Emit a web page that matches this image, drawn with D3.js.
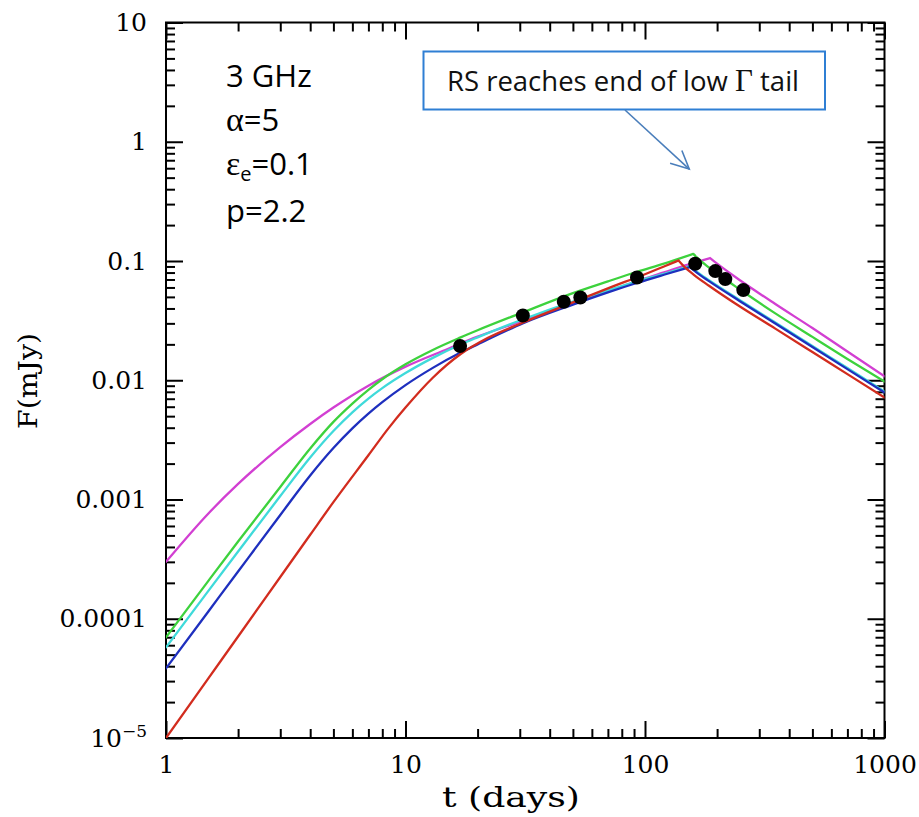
<!DOCTYPE html>
<html>
<head>
<meta charset="utf-8">
<script src="https://cdn.jsdelivr.net/npm/d3@7"></script>
<style>
  body { margin: 0; background: #fff; }
  svg { display: block; }
</style>
</head>
<body>
<svg id="chart" width="919" height="817"></svg>
<script>
// Model light curves at 3 GHz (t in days, F in mJy)
const magentaT = [1, 1.5, 2, 3, 4, 5, 7, 10, 15, 20, 31, 50, 70, 93, 120, 150, 187, 200, 250, 350, 500, 700, 1000];
const magentaF = [3.0e-4, 7.6e-4, 1.35e-3, 2.75e-3, 4.3e-3, 5.9e-3, 9.0e-3, 0.0130, 0.0183, 0.0232, 0.0316, 0.0445, 0.0557, 0.068, 0.0802, 0.0928, 0.1058, 0.0950, 0.0687, 0.0436, 0.0274, 0.0174, 0.0108];

const greenT = [1, 1.5, 2, 3, 4, 5, 6, 7, 8, 10, 13, 16.9, 20, 31, 50, 70, 93, 120, 159, 165, 180, 200, 250, 350, 500, 700, 1000];
const greenF = [6.99e-5, 2.07e-4, 4.44e-4, 1.273e-3, 2.68e-3, 4.48e-3, 6.38e-3, 8.32e-3, 0.0102, 0.0136, 0.01795, 0.02275, 0.02624, 0.0372, 0.0538, 0.0675, 0.0813, 0.0951, 0.1148, 0.1066, 0.0919, 0.0785, 0.0574, 0.0364, 0.0231, 0.0151, 0.00975];

const cyanT = [1, 1.5, 2, 3, 4, 5, 6, 7, 8, 10, 13, 16.9, 20, 31, 50, 70, 93, 120, 154, 165, 185, 250, 350, 500, 700, 1000];
const cyanF = [5.76e-5, 1.703e-4, 3.66e-4, 1.069e-3, 2.25e-3, 3.75e-3, 5.38e-3, 7.01e-3, 8.58e-3, 0.01148, 0.0154, 0.01984, 0.0229, 0.0325, 0.0457, 0.0567, 0.0676, 0.0782, 0.0906, 0.0811, 0.0691, 0.0467, 0.0305, 0.0194, 0.01265, 0.00805];

const blueT = [1, 1.5, 2, 3, 4, 5, 6, 7, 8, 10, 13, 16.9, 20, 31, 50, 70, 93, 120, 154, 165, 185, 250, 350, 500, 700, 1000];
const blueF = [3.84e-5, 1.146e-4, 2.49e-4, 7.41e-4, 1.59e-3, 2.7e-3, 3.95e-3, 5.25e-3, 6.55e-3, 9.1e-3, 0.0127, 0.0170, 0.0200, 0.0301, 0.0431, 0.0546, 0.0657, 0.0767, 0.0889, 0.0796, 0.0678, 0.0458, 0.0299, 0.0190, 0.0124, 0.0079];

const redT = [1, 1.5, 2, 3, 4, 5, 7, 8.5, 10, 13, 17, 22, 31, 50, 70, 100, 120, 138, 145, 160, 185, 250, 350, 500, 700, 1000];
const redF = [1.0e-5, 3.15e-5, 7.1e-5, 2.24e-4, 5.06e-4, 9.5e-4, 2.35e-3, 3.97e-3, 5.9e-3, 0.0105, 0.0166, 0.0226, 0.0305, 0.0450, 0.0590, 0.0775, 0.0900, 0.1009, 0.0905, 0.0766, 0.0620, 0.0413, 0.0271, 0.01725, 0.01125, 0.00716];

// Observed 3 GHz fluxes
const obsT = [16.9, 30.9, 45.8, 53.7, 92.6, 162, 196.6, 216.4, 257.3];
const obsF = [0.0194, 0.0349, 0.0455, 0.0494, 0.0727, 0.0947, 0.0823, 0.0705, 0.0570];

// Axis ticks
const xMajor = [1, 10, 100, 1000];
const xTickLabels = ["1", "10", "100", "1000"];
const yMajor = [1e-5, 1e-4, 1e-3, 0.01, 0.1, 1, 10];
const yTickLabels = ["10-5", "0.0001", "0.001", "0.01", "0.1", "1", "10"];

// Arrow tip of the annotation, in data units
const arrowTip = [153, 0.59];

const svg = d3.select("#chart");
const box = { left: 166, right: 884.5, top: 22.5, bottom: 738 };

const x = d3.scaleLog().domain([1, 1000]).range([box.left, box.right]);
const y = d3.scaleLog().domain([1e-5, 10]).range([box.bottom, box.top]);

const minorOf = (majors) => {
  const out = [];
  for (let i = 0; i < majors.length - 1; i++)
    for (let m = 2; m <= 9; m++) out.push(majors[i] * m);
  return out;
};
const xMinor = minorOf(xMajor);
const yMinor = minorOf(yMajor);

const serif = "'DejaVu Serif', serif";
const MAJ = 17, MIN = 9;

function styleAxis(g) {
  g.select(".domain").remove();
  g.selectAll(".tick line").attr("stroke", "#000").attr("stroke-width", 2);
  g.selectAll(".tick text").attr("fill", "#000")
    .style("font-family", serif).style("font-size", "25px");
}

// bottom
svg.append("g").attr("transform", `translate(0,${box.bottom})`)
  .call(d3.axisBottom(x).tickValues(xMajor).tickSize(-MAJ).tickPadding(17)
    .tickFormat((d, i) => xTickLabels[i]))
  .call(styleAxis);
svg.append("g").attr("transform", `translate(0,${box.bottom})`)
  .call(d3.axisBottom(x).tickValues(xMinor).tickSize(-MIN).tickFormat(""))
  .call(styleAxis);
// top
svg.append("g").attr("transform", `translate(0,${box.top})`)
  .call(d3.axisTop(x).tickValues(xMajor).tickSize(-MAJ).tickFormat(""))
  .call(styleAxis);
svg.append("g").attr("transform", `translate(0,${box.top})`)
  .call(d3.axisTop(x).tickValues(xMinor).tickSize(-MIN).tickFormat(""))
  .call(styleAxis);
// left
const leftAxis = svg.append("g").attr("transform", `translate(${box.left},0)`)
  .call(d3.axisLeft(y).tickValues(yMajor).tickSize(-MAJ).tickPadding(19)
    .tickFormat((d, i) => yTickLabels[i]))
  .call(styleAxis);
svg.append("g").attr("transform", `translate(${box.left},0)`)
  .call(d3.axisLeft(y).tickValues(yMinor).tickSize(-MIN).tickFormat(""))
  .call(styleAxis);
// right
svg.append("g").attr("transform", `translate(${box.right},0)`)
  .call(d3.axisRight(y).tickValues(yMajor).tickSize(-MAJ).tickFormat(""))
  .call(styleAxis);
svg.append("g").attr("transform", `translate(${box.right},0)`)
  .call(d3.axisRight(y).tickValues(yMinor).tickSize(-MIN).tickFormat(""))
  .call(styleAxis);

// exponent label 10^-5
leftAxis.selectAll(".tick text").filter(d => d === 1e-5).each(function () {
  const t = d3.select(this).text("");
  t.append("tspan").text("10");
  t.append("tspan").attr("dy", "-10").style("font-size", "17px").text("\u22125");
});

// frame
svg.append("rect")
  .attr("x", box.left).attr("y", box.top)
  .attr("width", box.right - box.left).attr("height", box.bottom - box.top)
  .attr("fill", "none").attr("stroke", "#000").attr("stroke-width", 2);

// axis titles
svg.append("text").attr("x", 511).attr("y", 807).attr("text-anchor", "middle")
  .attr("textLength", 138).attr("lengthAdjust", "spacingAndGlyphs")
  .style("font-family", serif).style("font-size", "27px").text("t (days)");
svg.append("text").attr("transform", "translate(37,381) rotate(-90)")
  .attr("text-anchor", "middle")
  .attr("textLength", 96).attr("lengthAdjust", "spacingAndGlyphs")
  .style("font-family", serif).style("font-size", "26px").text("F(mJy)");

// curves
svg.append("clipPath").attr("id", "plotClip").append("rect")
  .attr("x", box.left).attr("y", box.top)
  .attr("width", box.right - box.left).attr("height", box.bottom - box.top);

const line = d3.line().x(d => x(d[0])).y(d => y(d[1])).curve(d3.curveMonotoneX);
const series = [
  { t: magentaT, f: magentaF, color: "#d23fd2" },
  { t: greenT, f: greenF, color: "#3dd23d" },
  { t: cyanT, f: cyanF, color: "#3fdada" },
  { t: blueT, f: blueF, color: "#1e2fbe" },
  { t: redT, f: redF, color: "#d22c1e" }
];
const curves = svg.append("g").attr("clip-path", "url(#plotClip)");
series.forEach(s => {
  const pts = s.t.map((t, i) => [t, s.f[i]]);
  const k = d3.maxIndex(s.f);
  const d = line(pts.slice(0, k + 1)) + line(pts.slice(k));
  curves.append("path").attr("d", d).attr("fill", "none")
    .attr("stroke", s.color).attr("stroke-width", 2.3)
    .attr("stroke-linejoin", "round").attr("stroke-linecap", "round");
});

// observations
svg.append("g").selectAll("circle").data(obsT.map((t, i) => [t, obsF[i]]))
  .join("circle")
  .attr("cx", d => x(d[0])).attr("cy", d => y(d[1])).attr("r", 7)
  .attr("fill", "#000");

// parameter block
const sans = "'Open Sans', sans-serif";
const greek = "'Liberation Serif', serif";
const params = svg.append("g").style("font-family", sans).style("font-size", "31px").attr("fill", "#000");
params.append("text").attr("x", 226).attr("y", 87).text("3 GHz");
const a = params.append("text").attr("x", 226).attr("y", 131);
a.append("tspan").style("font-family", greek).style("font-size", "34px").text("\u03b1");
a.append("tspan").text("=5");
const e = params.append("text").attr("x", 226).attr("y", 175);
e.append("tspan").style("font-family", greek).style("font-size", "34px").text("\u03b5");
e.append("tspan").attr("dy", 6).style("font-size", "20px").text("e");
e.append("tspan").attr("dy", -6).text("=0.1");
params.append("text").attr("x", 226).attr("y", 222).text("p=2.2");

// annotation box and arrow
svg.append("rect").attr("x", 423.5).attr("y", 51.5).attr("width", 401.5).attr("height", 58)
  .attr("fill", "#fff").attr("stroke", "#2f7fd4").attr("stroke-width", 2);
const note = svg.append("text").attr("x", 623).attr("y", 91).attr("text-anchor", "middle")
  .style("font-family", sans).style("font-size", "27.5px").attr("fill", "#111");
note.append("tspan").text("RS reaches end of low ");
note.append("tspan").style("font-family", greek).style("font-size", "31px").text("\u0393");
note.append("tspan").text(" tail");

const tipX = x(arrowTip[0]), tipY = y(arrowTip[1]);
const tailX = 625, tailY = 110;
const ang = Math.atan2(tipY - tailY, tipX - tailX);
const headLen = 20, spread = 0.45;
svg.append("line").attr("x1", tailX).attr("y1", tailY).attr("x2", tipX).attr("y2", tipY)
  .attr("stroke", "#4a7ebb").attr("stroke-width", 1.6);
svg.append("path")
  .attr("d", `M${tipX - headLen * Math.cos(ang - spread)},${tipY - headLen * Math.sin(ang - spread)}` +
    `L${tipX},${tipY}L${tipX - headLen * Math.cos(ang + spread)},${tipY - headLen * Math.sin(ang + spread)}`)
  .attr("fill", "none").attr("stroke", "#4a7ebb").attr("stroke-width", 1.6);
</script>
</body>
</html>
